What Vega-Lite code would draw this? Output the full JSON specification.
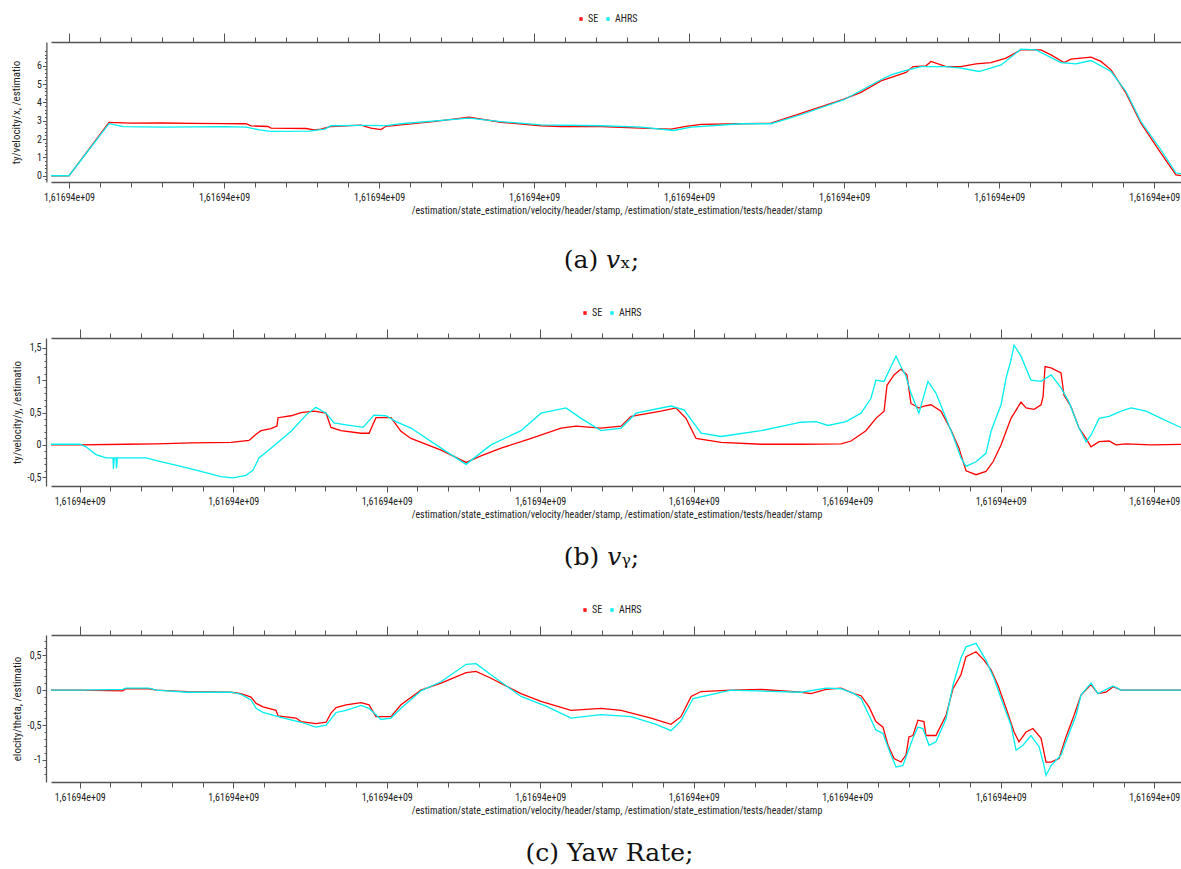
{
  "$schema": "https://vega.github.io/schema/vega-lite/v6.json",
  "background": "white",
  "padding": {"left": 10, "top": 14, "right": 0, "bottom": 0},
  "config": {
    "view": {"stroke": null},
    "axis": {
      "grid": false,
      "domainColor": "#555555",
      "tickColor": "#555555",
      "domainWidth": 1.3,
      "tickWidth": 1,
      "labelColor": "#222222",
      "titleColor": "#222222",
      "labelFont": "Liberation Sans Narrow, Roboto Condensed, DejaVu Sans Condensed, Liberation Sans",
      "titleFont": "Liberation Sans Narrow, Roboto Condensed, DejaVu Sans Condensed, Liberation Sans",
      "labelFontSize": 10,
      "titleFontSize": 10,
      "titleFontWeight": "normal",
      "labelOverlap": false,
      "labelFlush": false
    },
    "axisY": {"minExtent": 0},
    "legend": {
      "labelFont": "Liberation Sans Narrow, Roboto Condensed, DejaVu Sans Condensed, Liberation Sans",
      "labelFontSize": 10,
      "labelColor": "#222222",
      "symbolType": "square",
      "symbolSize": 4,
      "symbolStrokeWidth": 3,
      "columnPadding": 4,
      "labelOffset": 2
    },
    "title": {
      "font": "DejaVu Serif",
      "fontSize": 25,
      "fontWeight": "normal",
      "color": "#111111",
      "orient": "bottom",
      "anchor": "middle",
      "frame": "group"
    },
    "line": {"strokeWidth": 1.3, "clip": true}
  },
  "datasets": {
    "vx": [
      {"t": -1.86, "v": 0, "s": "SE"}, {"t": 0, "v": 0, "s": "SE"}, {"t": 2.58, "v": 2.91, "s": "SE"}, {"t": 4, "v": 2.87, "s": "SE"}, {"t": 6, "v": 2.88, "s": "SE"}, {"t": 8, "v": 2.86, "s": "SE"}, {"t": 10, "v": 2.85, "s": "SE"}, {"t": 11.42, "v": 2.84, "s": "SE"}, {"t": 11.74, "v": 2.72, "s": "SE"}, {"t": 12.84, "v": 2.69, "s": "SE"}, {"t": 13.03, "v": 2.6, "s": "SE"}, {"t": 15.29, "v": 2.58, "s": "SE"}, {"t": 15.8, "v": 2.51, "s": "SE"}, {"t": 16.25, "v": 2.55, "s": "SE"}, {"t": 16.9, "v": 2.69, "s": "SE"}, {"t": 18.83, "v": 2.76, "s": "SE"}, {"t": 19.48, "v": 2.6, "s": "SE"}, {"t": 20.12, "v": 2.52, "s": "SE"}, {"t": 20.45, "v": 2.7, "s": "SE"}, {"t": 21.41, "v": 2.78, "s": "SE"}, {"t": 23.5, "v": 2.95, "s": "SE"}, {"t": 25.8, "v": 3.2, "s": "SE"}, {"t": 27.86, "v": 2.92, "s": "SE"}, {"t": 30.44, "v": 2.73, "s": "SE"}, {"t": 31.73, "v": 2.69, "s": "SE"}, {"t": 34.31, "v": 2.69, "s": "SE"}, {"t": 36.89, "v": 2.6, "s": "SE"}, {"t": 38.83, "v": 2.55, "s": "SE"}, {"t": 39.8, "v": 2.69, "s": "SE"}, {"t": 40.77, "v": 2.8, "s": "SE"}, {"t": 43.35, "v": 2.84, "s": "SE"}, {"t": 45.28, "v": 2.87, "s": "SE"}, {"t": 47.21, "v": 3.4, "s": "SE"}, {"t": 49.99, "v": 4.18, "s": "SE"}, {"t": 51.08, "v": 4.55, "s": "SE"}, {"t": 52.37, "v": 5.18, "s": "SE"}, {"t": 53.99, "v": 5.64, "s": "SE"}, {"t": 54.44, "v": 5.96, "s": "SE"}, {"t": 55.28, "v": 6.0, "s": "SE"}, {"t": 55.6, "v": 6.24, "s": "SE"}, {"t": 56.57, "v": 5.96, "s": "SE"}, {"t": 57.53, "v": 5.96, "s": "SE"}, {"t": 58.5, "v": 6.11, "s": "SE"}, {"t": 59.47, "v": 6.18, "s": "SE"}, {"t": 60.44, "v": 6.42, "s": "SE"}, {"t": 61.4, "v": 6.87, "s": "SE"}, {"t": 62.69, "v": 6.87, "s": "SE"}, {"t": 63.34, "v": 6.6, "s": "SE"}, {"t": 64.18, "v": 6.18, "s": "SE"}, {"t": 64.63, "v": 6.36, "s": "SE"}, {"t": 65.92, "v": 6.47, "s": "SE"}, {"t": 66.56, "v": 6.24, "s": "SE"}, {"t": 67.21, "v": 5.78, "s": "SE"}, {"t": 68.18, "v": 4.51, "s": "SE"}, {"t": 69.14, "v": 2.87, "s": "SE"}, {"t": 70.43, "v": 1.24, "s": "SE"}, {"t": 71.4, "v": 0.05, "s": "SE"}, {"t": 71.8, "v": 0, "s": "SE"},
      {"t": -1.86, "v": 0, "s": "AHRS"}, {"t": 0, "v": 0, "s": "AHRS"}, {"t": 2.58, "v": 2.84, "s": "AHRS"}, {"t": 3.5, "v": 2.68, "s": "AHRS"}, {"t": 6, "v": 2.66, "s": "AHRS"}, {"t": 8, "v": 2.67, "s": "AHRS"}, {"t": 10, "v": 2.68, "s": "AHRS"}, {"t": 11.42, "v": 2.66, "s": "AHRS"}, {"t": 12.3, "v": 2.5, "s": "AHRS"}, {"t": 13, "v": 2.42, "s": "AHRS"}, {"t": 15.5, "v": 2.44, "s": "AHRS"}, {"t": 16.5, "v": 2.55, "s": "AHRS"}, {"t": 16.9, "v": 2.73, "s": "AHRS"}, {"t": 18.8, "v": 2.75, "s": "AHRS"}, {"t": 20.5, "v": 2.74, "s": "AHRS"}, {"t": 21.41, "v": 2.84, "s": "AHRS"}, {"t": 25.8, "v": 3.15, "s": "AHRS"}, {"t": 27.86, "v": 2.96, "s": "AHRS"}, {"t": 30.44, "v": 2.78, "s": "AHRS"}, {"t": 34.31, "v": 2.73, "s": "AHRS"}, {"t": 36.89, "v": 2.66, "s": "AHRS"}, {"t": 39, "v": 2.47, "s": "AHRS"}, {"t": 40.13, "v": 2.66, "s": "AHRS"}, {"t": 43.35, "v": 2.84, "s": "AHRS"}, {"t": 45.28, "v": 2.84, "s": "AHRS"}, {"t": 47.21, "v": 3.33, "s": "AHRS"}, {"t": 49.99, "v": 4.15, "s": "AHRS"}, {"t": 52.37, "v": 5.24, "s": "AHRS"}, {"t": 53.02, "v": 5.51, "s": "AHRS"}, {"t": 53.99, "v": 5.75, "s": "AHRS"}, {"t": 54.96, "v": 5.96, "s": "AHRS"}, {"t": 56.57, "v": 5.96, "s": "AHRS"}, {"t": 57.53, "v": 5.87, "s": "AHRS"}, {"t": 58.7, "v": 5.69, "s": "AHRS"}, {"t": 60.12, "v": 6.05, "s": "AHRS"}, {"t": 61.4, "v": 6.91, "s": "AHRS"}, {"t": 62.37, "v": 6.87, "s": "AHRS"}, {"t": 63.98, "v": 6.18, "s": "AHRS"}, {"t": 64.95, "v": 6.11, "s": "AHRS"}, {"t": 65.92, "v": 6.29, "s": "AHRS"}, {"t": 67.21, "v": 5.69, "s": "AHRS"}, {"t": 68.18, "v": 4.6, "s": "AHRS"}, {"t": 69.14, "v": 2.96, "s": "AHRS"}, {"t": 70.43, "v": 1.42, "s": "AHRS"}, {"t": 71.4, "v": 0.15, "s": "AHRS"}, {"t": 71.8, "v": 0.1, "s": "AHRS"}
    ],
    "vy": [
      {"t": -1.87, "v": 0, "s": "SE"}, {"t": 0, "v": 0, "s": "SE"}, {"t": 3, "v": 0.01, "s": "SE"}, {"t": 5, "v": 0.015, "s": "SE"}, {"t": 7.25, "v": 0.03, "s": "SE"}, {"t": 9.86, "v": 0.04, "s": "SE"}, {"t": 11.03, "v": 0.07, "s": "SE"}, {"t": 11.49, "v": 0.165, "s": "SE"}, {"t": 11.81, "v": 0.22, "s": "SE"}, {"t": 12.46, "v": 0.25, "s": "SE"}, {"t": 12.85, "v": 0.29, "s": "SE"}, {"t": 12.92, "v": 0.42, "s": "SE"}, {"t": 13.77, "v": 0.45, "s": "SE"}, {"t": 14.42, "v": 0.5, "s": "SE"}, {"t": 15.26, "v": 0.52, "s": "SE"}, {"t": 16.05, "v": 0.49, "s": "SE"}, {"t": 16.37, "v": 0.27, "s": "SE"}, {"t": 17.02, "v": 0.22, "s": "SE"}, {"t": 18.33, "v": 0.18, "s": "SE"}, {"t": 18.85, "v": 0.18, "s": "SE"}, {"t": 19.3, "v": 0.42, "s": "SE"}, {"t": 20.28, "v": 0.42, "s": "SE"}, {"t": 20.93, "v": 0.21, "s": "SE"}, {"t": 21.58, "v": 0.1, "s": "SE"}, {"t": 23.54, "v": -0.08, "s": "SE"}, {"t": 25.17, "v": -0.27, "s": "SE"}, {"t": 26.14, "v": -0.17, "s": "SE"}, {"t": 27.45, "v": -0.05, "s": "SE"}, {"t": 29.41, "v": 0.1, "s": "SE"}, {"t": 31.36, "v": 0.26, "s": "SE"}, {"t": 32.33, "v": 0.29, "s": "SE"}, {"t": 33.96, "v": 0.26, "s": "SE"}, {"t": 35.27, "v": 0.29, "s": "SE"}, {"t": 35.92, "v": 0.44, "s": "SE"}, {"t": 37.87, "v": 0.52, "s": "SE"}, {"t": 38.85, "v": 0.57, "s": "SE"}, {"t": 39.5, "v": 0.41, "s": "SE"}, {"t": 40.15, "v": 0.1, "s": "SE"}, {"t": 41.78, "v": 0.04, "s": "SE"}, {"t": 44.39, "v": 0.01, "s": "SE"}, {"t": 47.0, "v": 0.01, "s": "SE"}, {"t": 49.6, "v": 0.015, "s": "SE"}, {"t": 50.25, "v": 0.06, "s": "SE"}, {"t": 51.22, "v": 0.22, "s": "SE"}, {"t": 51.87, "v": 0.41, "s": "SE"}, {"t": 52.4, "v": 0.52, "s": "SE"}, {"t": 52.59, "v": 0.92, "s": "SE"}, {"t": 53.05, "v": 1.08, "s": "SE"}, {"t": 53.5, "v": 1.17, "s": "SE"}, {"t": 53.89, "v": 1.08, "s": "SE"}, {"t": 54.15, "v": 0.64, "s": "SE"}, {"t": 54.67, "v": 0.57, "s": "SE"}, {"t": 55.0, "v": 0.6, "s": "SE"}, {"t": 55.46, "v": 0.62, "s": "SE"}, {"t": 56.11, "v": 0.52, "s": "SE"}, {"t": 56.76, "v": 0.23, "s": "SE"}, {"t": 57.28, "v": -0.05, "s": "SE"}, {"t": 57.74, "v": -0.4, "s": "SE"}, {"t": 58.39, "v": -0.46, "s": "SE"}, {"t": 59.04, "v": -0.41, "s": "SE"}, {"t": 59.5, "v": -0.26, "s": "SE"}, {"t": 60.02, "v": 0, "s": "SE"}, {"t": 60.67, "v": 0.41, "s": "SE"}, {"t": 61.32, "v": 0.66, "s": "SE"}, {"t": 61.65, "v": 0.57, "s": "SE"}, {"t": 62.17, "v": 0.55, "s": "SE"}, {"t": 62.63, "v": 0.62, "s": "SE"}, {"t": 62.76, "v": 0.75, "s": "SE"}, {"t": 62.89, "v": 1.21, "s": "SE"}, {"t": 63.28, "v": 1.19, "s": "SE"}, {"t": 63.93, "v": 1.11, "s": "SE"}, {"t": 64.12, "v": 0.77, "s": "SE"}, {"t": 64.58, "v": 0.59, "s": "SE"}, {"t": 65.1, "v": 0.26, "s": "SE"}, {"t": 65.56, "v": 0.1, "s": "SE"}, {"t": 65.88, "v": -0.03, "s": "SE"}, {"t": 66.41, "v": 0.05, "s": "SE"}, {"t": 67.06, "v": 0.06, "s": "SE"}, {"t": 67.51, "v": 0, "s": "SE"}, {"t": 68.17, "v": 0.015, "s": "SE"}, {"t": 69.8, "v": 0, "s": "SE"}, {"t": 71.81, "v": 0.01, "s": "SE"},
      {"t": -1.87, "v": 0.01, "s": "AHRS"}, {"t": 0, "v": 0.01, "s": "AHRS"}, {"t": 0.41, "v": -0.03, "s": "AHRS"}, {"t": 1.06, "v": -0.15, "s": "AHRS"}, {"t": 1.71, "v": -0.2, "s": "AHRS"}, {"t": 2.17, "v": -0.2, "s": "AHRS"}, {"t": 2.2, "v": -0.37, "s": "AHRS"}, {"t": 2.25, "v": -0.2, "s": "AHRS"}, {"t": 2.36, "v": -0.2, "s": "AHRS"}, {"t": 2.4, "v": -0.36, "s": "AHRS"}, {"t": 2.45, "v": -0.2, "s": "AHRS"}, {"t": 3.34, "v": -0.2, "s": "AHRS"}, {"t": 4.32, "v": -0.2, "s": "AHRS"}, {"t": 5.34, "v": -0.26, "s": "AHRS"}, {"t": 6.6, "v": -0.33, "s": "AHRS"}, {"t": 7.9, "v": -0.41, "s": "AHRS"}, {"t": 9.2, "v": -0.49, "s": "AHRS"}, {"t": 9.99, "v": -0.51, "s": "AHRS"}, {"t": 10.83, "v": -0.47, "s": "AHRS"}, {"t": 11.29, "v": -0.39, "s": "AHRS"}, {"t": 11.68, "v": -0.2, "s": "AHRS"}, {"t": 12.46, "v": -0.05, "s": "AHRS"}, {"t": 13.77, "v": 0.21, "s": "AHRS"}, {"t": 14.74, "v": 0.46, "s": "AHRS"}, {"t": 15.39, "v": 0.58, "s": "AHRS"}, {"t": 16.05, "v": 0.49, "s": "AHRS"}, {"t": 16.57, "v": 0.34, "s": "AHRS"}, {"t": 17.35, "v": 0.31, "s": "AHRS"}, {"t": 18.46, "v": 0.27, "s": "AHRS"}, {"t": 19.17, "v": 0.46, "s": "AHRS"}, {"t": 19.95, "v": 0.45, "s": "AHRS"}, {"t": 20.61, "v": 0.36, "s": "AHRS"}, {"t": 21.58, "v": 0.26, "s": "AHRS"}, {"t": 23.54, "v": -0.05, "s": "AHRS"}, {"t": 25.17, "v": -0.3, "s": "AHRS"}, {"t": 26.79, "v": 0, "s": "AHRS"}, {"t": 28.75, "v": 0.22, "s": "AHRS"}, {"t": 30.05, "v": 0.49, "s": "AHRS"}, {"t": 31.68, "v": 0.57, "s": "AHRS"}, {"t": 32.66, "v": 0.41, "s": "AHRS"}, {"t": 33.96, "v": 0.22, "s": "AHRS"}, {"t": 35.27, "v": 0.26, "s": "AHRS"}, {"t": 36.24, "v": 0.49, "s": "AHRS"}, {"t": 38.52, "v": 0.6, "s": "AHRS"}, {"t": 39.37, "v": 0.54, "s": "AHRS"}, {"t": 40.48, "v": 0.18, "s": "AHRS"}, {"t": 41.78, "v": 0.13, "s": "AHRS"}, {"t": 44.39, "v": 0.22, "s": "AHRS"}, {"t": 47.0, "v": 0.35, "s": "AHRS"}, {"t": 47.97, "v": 0.36, "s": "AHRS"}, {"t": 48.75, "v": 0.3, "s": "AHRS"}, {"t": 49.92, "v": 0.36, "s": "AHRS"}, {"t": 50.9, "v": 0.49, "s": "AHRS"}, {"t": 51.55, "v": 0.72, "s": "AHRS"}, {"t": 51.87, "v": 1.0, "s": "AHRS"}, {"t": 52.4, "v": 0.98, "s": "AHRS"}, {"t": 52.85, "v": 1.21, "s": "AHRS"}, {"t": 53.18, "v": 1.37, "s": "AHRS"}, {"t": 53.5, "v": 1.21, "s": "AHRS"}, {"t": 53.83, "v": 1.06, "s": "AHRS"}, {"t": 54.15, "v": 0.8, "s": "AHRS"}, {"t": 54.67, "v": 0.49, "s": "AHRS"}, {"t": 55.26, "v": 0.98, "s": "AHRS"}, {"t": 55.78, "v": 0.8, "s": "AHRS"}, {"t": 56.44, "v": 0.41, "s": "AHRS"}, {"t": 56.96, "v": 0.1, "s": "AHRS"}, {"t": 57.41, "v": -0.2, "s": "AHRS"}, {"t": 57.74, "v": -0.33, "s": "AHRS"}, {"t": 58.39, "v": -0.26, "s": "AHRS"}, {"t": 59.04, "v": -0.13, "s": "AHRS"}, {"t": 59.37, "v": 0.21, "s": "AHRS"}, {"t": 60.02, "v": 0.62, "s": "AHRS"}, {"t": 60.35, "v": 1.03, "s": "AHRS"}, {"t": 60.67, "v": 1.31, "s": "AHRS"}, {"t": 60.87, "v": 1.54, "s": "AHRS"}, {"t": 61.32, "v": 1.37, "s": "AHRS"}, {"t": 61.97, "v": 1.0, "s": "AHRS"}, {"t": 62.63, "v": 0.98, "s": "AHRS"}, {"t": 63.28, "v": 1.08, "s": "AHRS"}, {"t": 63.93, "v": 0.88, "s": "AHRS"}, {"t": 64.45, "v": 0.66, "s": "AHRS"}, {"t": 65.1, "v": 0.26, "s": "AHRS"}, {"t": 65.56, "v": 0.05, "s": "AHRS"}, {"t": 65.88, "v": 0.15, "s": "AHRS"}, {"t": 66.41, "v": 0.41, "s": "AHRS"}, {"t": 67.06, "v": 0.44, "s": "AHRS"}, {"t": 67.84, "v": 0.52, "s": "AHRS"}, {"t": 68.49, "v": 0.57, "s": "AHRS"}, {"t": 69.47, "v": 0.52, "s": "AHRS"}, {"t": 70.45, "v": 0.41, "s": "AHRS"}, {"t": 71.81, "v": 0.26, "s": "AHRS"}
    ],
    "yaw": [
      {"t": -1.87, "v": 0, "s": "SE"}, {"t": 0, "v": 0, "s": "SE"}, {"t": 2.8, "v": -0.01, "s": "SE"}, {"t": 3.0, "v": 0.02, "s": "SE"}, {"t": 4.5, "v": 0.02, "s": "SE"}, {"t": 5.0, "v": 0, "s": "SE"}, {"t": 7.0, "v": -0.02, "s": "SE"}, {"t": 9.86, "v": -0.03, "s": "SE"}, {"t": 10.51, "v": -0.05, "s": "SE"}, {"t": 11.16, "v": -0.1, "s": "SE"}, {"t": 11.49, "v": -0.19, "s": "SE"}, {"t": 11.94, "v": -0.24, "s": "SE"}, {"t": 12.79, "v": -0.29, "s": "SE"}, {"t": 12.92, "v": -0.37, "s": "SE"}, {"t": 14.09, "v": -0.4, "s": "SE"}, {"t": 14.42, "v": -0.45, "s": "SE"}, {"t": 15.39, "v": -0.48, "s": "SE"}, {"t": 16.05, "v": -0.46, "s": "SE"}, {"t": 16.37, "v": -0.33, "s": "SE"}, {"t": 16.7, "v": -0.25, "s": "SE"}, {"t": 17.35, "v": -0.21, "s": "SE"}, {"t": 18.33, "v": -0.18, "s": "SE"}, {"t": 18.85, "v": -0.21, "s": "SE"}, {"t": 19.3, "v": -0.38, "s": "SE"}, {"t": 20.28, "v": -0.38, "s": "SE"}, {"t": 20.93, "v": -0.21, "s": "SE"}, {"t": 22.23, "v": 0, "s": "SE"}, {"t": 23.54, "v": 0.1, "s": "SE"}, {"t": 25.17, "v": 0.25, "s": "SE"}, {"t": 25.82, "v": 0.27, "s": "SE"}, {"t": 26.79, "v": 0.17, "s": "SE"}, {"t": 28.75, "v": -0.05, "s": "SE"}, {"t": 30.05, "v": -0.16, "s": "SE"}, {"t": 32.01, "v": -0.29, "s": "SE"}, {"t": 33.96, "v": -0.26, "s": "SE"}, {"t": 35.27, "v": -0.29, "s": "SE"}, {"t": 37.22, "v": -0.4, "s": "SE"}, {"t": 38.52, "v": -0.49, "s": "SE"}, {"t": 39.17, "v": -0.38, "s": "SE"}, {"t": 39.83, "v": -0.09, "s": "SE"}, {"t": 40.48, "v": -0.02, "s": "SE"}, {"t": 42.43, "v": 0, "s": "SE"}, {"t": 44.39, "v": 0.01, "s": "SE"}, {"t": 47.0, "v": -0.03, "s": "SE"}, {"t": 47.64, "v": -0.05, "s": "SE"}, {"t": 48.62, "v": 0.01, "s": "SE"}, {"t": 49.6, "v": 0.03, "s": "SE"}, {"t": 50.44, "v": -0.05, "s": "SE"}, {"t": 50.9, "v": -0.08, "s": "SE"}, {"t": 51.42, "v": -0.24, "s": "SE"}, {"t": 51.87, "v": -0.45, "s": "SE"}, {"t": 52.33, "v": -0.53, "s": "SE"}, {"t": 52.66, "v": -0.79, "s": "SE"}, {"t": 53.05, "v": -0.98, "s": "SE"}, {"t": 53.5, "v": -1.03, "s": "SE"}, {"t": 53.83, "v": -0.93, "s": "SE"}, {"t": 54.02, "v": -0.67, "s": "SE"}, {"t": 54.28, "v": -0.65, "s": "SE"}, {"t": 54.61, "v": -0.43, "s": "SE"}, {"t": 55.0, "v": -0.45, "s": "SE"}, {"t": 55.13, "v": -0.65, "s": "SE"}, {"t": 55.78, "v": -0.65, "s": "SE"}, {"t": 56.44, "v": -0.36, "s": "SE"}, {"t": 56.89, "v": 0.02, "s": "SE"}, {"t": 57.41, "v": 0.22, "s": "SE"}, {"t": 57.74, "v": 0.48, "s": "SE"}, {"t": 58.39, "v": 0.55, "s": "SE"}, {"t": 58.91, "v": 0.43, "s": "SE"}, {"t": 59.37, "v": 0.29, "s": "SE"}, {"t": 59.82, "v": 0.07, "s": "SE"}, {"t": 60.35, "v": -0.26, "s": "SE"}, {"t": 60.87, "v": -0.6, "s": "SE"}, {"t": 61.19, "v": -0.74, "s": "SE"}, {"t": 61.65, "v": -0.6, "s": "SE"}, {"t": 62.1, "v": -0.55, "s": "SE"}, {"t": 62.63, "v": -0.69, "s": "SE"}, {"t": 62.95, "v": -1.03, "s": "SE"}, {"t": 63.28, "v": -1.03, "s": "SE"}, {"t": 63.8, "v": -0.98, "s": "SE"}, {"t": 64.25, "v": -0.67, "s": "SE"}, {"t": 64.78, "v": -0.36, "s": "SE"}, {"t": 65.23, "v": -0.07, "s": "SE"}, {"t": 65.88, "v": 0.08, "s": "SE"}, {"t": 66.34, "v": -0.05, "s": "SE"}, {"t": 66.86, "v": -0.03, "s": "SE"}, {"t": 67.32, "v": 0.05, "s": "SE"}, {"t": 67.84, "v": 0, "s": "SE"}, {"t": 71.81, "v": 0, "s": "SE"},
      {"t": -1.87, "v": 0, "s": "AHRS"}, {"t": 0, "v": 0, "s": "AHRS"}, {"t": 2.8, "v": 0.01, "s": "AHRS"}, {"t": 3.0, "v": 0.03, "s": "AHRS"}, {"t": 4.5, "v": 0.03, "s": "AHRS"}, {"t": 5.0, "v": 0, "s": "AHRS"}, {"t": 7.0, "v": -0.03, "s": "AHRS"}, {"t": 9.86, "v": -0.03, "s": "AHRS"}, {"t": 10.51, "v": -0.06, "s": "AHRS"}, {"t": 11.16, "v": -0.14, "s": "AHRS"}, {"t": 11.49, "v": -0.26, "s": "AHRS"}, {"t": 11.94, "v": -0.32, "s": "AHRS"}, {"t": 13.11, "v": -0.39, "s": "AHRS"}, {"t": 14.42, "v": -0.46, "s": "AHRS"}, {"t": 15.39, "v": -0.53, "s": "AHRS"}, {"t": 16.05, "v": -0.5, "s": "AHRS"}, {"t": 16.7, "v": -0.32, "s": "AHRS"}, {"t": 17.35, "v": -0.29, "s": "AHRS"}, {"t": 18.33, "v": -0.22, "s": "AHRS"}, {"t": 18.85, "v": -0.26, "s": "AHRS"}, {"t": 19.63, "v": -0.42, "s": "AHRS"}, {"t": 20.28, "v": -0.4, "s": "AHRS"}, {"t": 20.93, "v": -0.26, "s": "AHRS"}, {"t": 22.23, "v": -0.01, "s": "AHRS"}, {"t": 23.54, "v": 0.12, "s": "AHRS"}, {"t": 25.17, "v": 0.37, "s": "AHRS"}, {"t": 25.82, "v": 0.38, "s": "AHRS"}, {"t": 26.79, "v": 0.22, "s": "AHRS"}, {"t": 28.75, "v": -0.09, "s": "AHRS"}, {"t": 30.38, "v": -0.23, "s": "AHRS"}, {"t": 32.01, "v": -0.4, "s": "AHRS"}, {"t": 33.96, "v": -0.35, "s": "AHRS"}, {"t": 35.92, "v": -0.38, "s": "AHRS"}, {"t": 37.55, "v": -0.49, "s": "AHRS"}, {"t": 38.52, "v": -0.58, "s": "AHRS"}, {"t": 39.17, "v": -0.44, "s": "AHRS"}, {"t": 39.96, "v": -0.12, "s": "AHRS"}, {"t": 42.43, "v": 0, "s": "AHRS"}, {"t": 47.0, "v": -0.03, "s": "AHRS"}, {"t": 48.62, "v": 0.03, "s": "AHRS"}, {"t": 49.6, "v": 0.02, "s": "AHRS"}, {"t": 50.44, "v": -0.05, "s": "AHRS"}, {"t": 50.9, "v": -0.12, "s": "AHRS"}, {"t": 51.42, "v": -0.36, "s": "AHRS"}, {"t": 51.87, "v": -0.57, "s": "AHRS"}, {"t": 52.33, "v": -0.62, "s": "AHRS"}, {"t": 52.85, "v": -0.93, "s": "AHRS"}, {"t": 53.18, "v": -1.1, "s": "AHRS"}, {"t": 53.63, "v": -1.08, "s": "AHRS"}, {"t": 53.96, "v": -0.88, "s": "AHRS"}, {"t": 54.28, "v": -0.69, "s": "AHRS"}, {"t": 54.61, "v": -0.53, "s": "AHRS"}, {"t": 54.93, "v": -0.55, "s": "AHRS"}, {"t": 55.33, "v": -0.79, "s": "AHRS"}, {"t": 55.78, "v": -0.74, "s": "AHRS"}, {"t": 56.44, "v": -0.41, "s": "AHRS"}, {"t": 56.89, "v": 0.07, "s": "AHRS"}, {"t": 57.41, "v": 0.46, "s": "AHRS"}, {"t": 57.74, "v": 0.62, "s": "AHRS"}, {"t": 58.39, "v": 0.67, "s": "AHRS"}, {"t": 59.04, "v": 0.43, "s": "AHRS"}, {"t": 59.56, "v": 0.17, "s": "AHRS"}, {"t": 60.02, "v": -0.12, "s": "AHRS"}, {"t": 60.67, "v": -0.5, "s": "AHRS"}, {"t": 61.0, "v": -0.86, "s": "AHRS"}, {"t": 61.45, "v": -0.79, "s": "AHRS"}, {"t": 61.97, "v": -0.65, "s": "AHRS"}, {"t": 62.5, "v": -0.81, "s": "AHRS"}, {"t": 62.82, "v": -1.08, "s": "AHRS"}, {"t": 62.95, "v": -1.22, "s": "AHRS"}, {"t": 63.28, "v": -1.08, "s": "AHRS"}, {"t": 63.93, "v": -0.93, "s": "AHRS"}, {"t": 64.45, "v": -0.62, "s": "AHRS"}, {"t": 64.91, "v": -0.36, "s": "AHRS"}, {"t": 65.23, "v": -0.07, "s": "AHRS"}, {"t": 65.88, "v": 0.1, "s": "AHRS"}, {"t": 66.34, "v": -0.05, "s": "AHRS"}, {"t": 67.32, "v": 0.06, "s": "AHRS"}, {"t": 67.84, "v": 0, "s": "AHRS"}, {"t": 71.81, "v": 0, "s": "AHRS"}
    ]
  },
  "spacing": 35,
  "resolve": {"scale": {"color": "independent"}, "legend": {"color": "independent"}},
  "vconcat": [
    {
      "width": 1131,
      "height": 140,
      "title": {"text": "(a) 𝑣ₓ;", "dx": -15, "offset": 33},
      "data": {"name": "vx"},
      "encoding": {
        "y": {"field": "v", "type": "quantitative", "scale": {"domain": [-0.34, 7.3], "nice": false, "zero": false},
          "axis": {"orient": "left", "offset": 4.6, "minExtent": 0, "values": [-0.2,0,0.2,0.4,0.6,0.8,1,1.2,1.4,1.6,1.8,2,2.2,2.4,2.6,2.8,3,3.2,3.4,3.6,3.8,4,4.2,4.4,4.6,4.8,5,5.2,5.4,5.6,5.8,6,6.2,6.4,6.6,6.8],
            "labelExpr": "abs(datum.value - round(datum.value)) < 1e-6 ? toString(round(datum.value)) : ''",
            "tickSize": {"condition": {"test": "abs(datum.value - round(datum.value)) < 1e-6", "value": 4}, "value": 2},
            "labelPadding": 1, "title": "ty/velocity/x, /estimatio", "titleFontSize": 11, "titlePadding": 15}},
        "color": {"field": "s", "type": "nominal", "scale": {"domain": ["SE", "AHRS"], "range": ["#ff0000", "#00eeee"]},
          "legend": {"orient": "none", "legendX": 525, "legendY": -28, "direction": "horizontal", "title": null}}
      },
      "layer": [
        {
          "transform": [{"filter": "datum.s === 'SE'"}],
          "mark": {"type": "line", "clip": true},
          "encoding": {
            "x": {"field": "t", "type": "quantitative", "scale": {"domain": [-1.16, 71.79], "nice": false, "zero": false},
              "axis": {"orient": "bottom", "values": [0,2,4,6,8,10,12,14,16,18,20,22,24,26,28,30,32,34,36,38,40,42,44,46,48,50,52,54,56,58,60,62,64,66,68,70],
                "labelExpr": "datum.value % 10 === 0 ? '1,61694e+09' : ''",
                "tickSize": {"condition": {"test": "datum.value % 10 === 0", "value": 6}, "value": 5},
                "labelPadding": 4,
                "title": "/estimation/state_estimation/velocity/header/stamp, /estimation/state_estimation/tests/header/stamp",
                "titlePadding": 3}}
          }
        },
        {
          "transform": [{"filter": "datum.s === 'AHRS'"}],
          "mark": {"type": "line", "clip": true},
          "encoding": {
            "x": {"field": "t", "type": "quantitative", "scale": {"domain": [-1.16, 71.79], "nice": false, "zero": false},
              "axis": {"orient": "top", "values": [0,2,4,6,8,10,12,14,16,18,20,22,24,26,28,30,32,34,36,38,40,42,44,46,48,50,52,54,56,58,60,62,64,66,68,70],
                "labels": false, "title": null,
                "tickSize": {"condition": {"test": "datum.value % 10 === 0", "value": 9}, "value": 5}}}
          }
        }
      ],
      "resolve": {"axis": {"x": "independent"}}
    },
    {
      "width": 1131,
      "height": 148,
      "title": {"text": "(b) 𝑣ᵧ;", "dx": -15, "offset": 26},
      "data": {"name": "vy"},
      "encoding": {
        "y": {"field": "v", "type": "quantitative", "scale": {"domain": [-0.634, 1.65], "nice": false, "zero": false},
          "axis": {"orient": "left", "offset": 5, "minExtent": 0, "values": [-0.5,-0.4,-0.3,-0.2,-0.1,0,0.1,0.2,0.3,0.4,0.5,0.6,0.7,0.8,0.9,1,1.1,1.2,1.3,1.4,1.5],
            "labelExpr": "abs(datum.value*2 - round(datum.value*2)) < 1e-6 ? replace(toString(round(datum.value*10)/10), '.', ',') : ''",
            "tickSize": {"condition": {"test": "abs(datum.value*2 - round(datum.value*2)) < 1e-6", "value": 4}, "value": 2},
            "labelPadding": 1, "title": "ty/velocity/y, /estimatio", "titleFontSize": 11, "titlePadding": 4}},
        "color": {"field": "s", "type": "nominal", "scale": {"domain": ["SE", "AHRS"], "range": ["#ff0000", "#00eeee"]},
          "legend": {"orient": "none", "legendX": 529, "legendY": -30, "direction": "horizontal", "title": null}}
      },
      "layer": [
        {
          "transform": [{"filter": "datum.s === 'SE'"}],
          "mark": {"type": "line", "clip": true},
          "encoding": {
            "x": {"field": "t", "type": "quantitative", "scale": {"domain": [-1.87, 71.81], "nice": false, "zero": false},
              "axis": {"orient": "bottom", "values": [0,2,4,6,8,10,12,14,16,18,20,22,24,26,28,30,32,34,36,38,40,42,44,46,48,50,52,54,56,58,60,62,64,66,68,70],
                "labelExpr": "datum.value % 10 === 0 ? '1,61694e+09' : ''",
                "tickSize": {"condition": {"test": "datum.value % 10 === 0", "value": 6}, "value": 5},
                "labelPadding": 4,
                "title": "/estimation/state_estimation/velocity/header/stamp, /estimation/state_estimation/tests/header/stamp",
                "titlePadding": 3}}
          }
        },
        {
          "transform": [{"filter": "datum.s === 'AHRS'"}],
          "mark": {"type": "line", "clip": true},
          "encoding": {
            "x": {"field": "t", "type": "quantitative", "scale": {"domain": [-1.87, 71.81], "nice": false, "zero": false},
              "axis": {"orient": "top", "values": [0,2,4,6,8,10,12,14,16,18,20,22,24,26,28,30,32,34,36,38,40,42,44,46,48,50,52,54,56,58,60,62,64,66,68,70],
                "labels": false, "title": null,
                "tickSize": {"condition": {"test": "datum.value % 10 === 0", "value": 9}, "value": 5}}}
          }
        }
      ],
      "resolve": {"axis": {"x": "independent"}}
    },
    {
      "width": 1131,
      "height": 147,
      "title": {"text": "(c) Yaw Rate;", "dx": -7, "offset": 26},
      "data": {"name": "yaw"},
      "encoding": {
        "y": {"field": "v", "type": "quantitative", "scale": {"domain": [-1.316, 0.79], "nice": false, "zero": false},
          "axis": {"orient": "left", "offset": 5, "minExtent": 0, "values": [-1.2,-1.1,-1,-0.9,-0.8,-0.7,-0.6,-0.5,-0.4,-0.3,-0.2,-0.1,0,0.1,0.2,0.3,0.4,0.5,0.6,0.7],
            "labelExpr": "abs(datum.value*2 - round(datum.value*2)) < 1e-6 ? replace(toString(round(datum.value*10)/10), '.', ',') : ''",
            "tickSize": {"condition": {"test": "abs(datum.value*2 - round(datum.value*2)) < 1e-6", "value": 4}, "value": 2},
            "labelPadding": 1, "title": "elocity/theta, /estimatio", "titleFontSize": 11, "titlePadding": 4}},
        "color": {"field": "s", "type": "nominal", "scale": {"domain": ["SE", "AHRS"], "range": ["#ff0000", "#00eeee"]},
          "legend": {"orient": "none", "legendX": 529, "legendY": -30, "direction": "horizontal", "title": null}}
      },
      "layer": [
        {
          "transform": [{"filter": "datum.s === 'SE'"}],
          "mark": {"type": "line", "clip": true},
          "encoding": {
            "x": {"field": "t", "type": "quantitative", "scale": {"domain": [-1.87, 71.81], "nice": false, "zero": false},
              "axis": {"orient": "bottom", "values": [0,2,4,6,8,10,12,14,16,18,20,22,24,26,28,30,32,34,36,38,40,42,44,46,48,50,52,54,56,58,60,62,64,66,68,70],
                "labelExpr": "datum.value % 10 === 0 ? '1,61694e+09' : ''",
                "tickSize": {"condition": {"test": "datum.value % 10 === 0", "value": 6}, "value": 5},
                "labelPadding": 4,
                "title": "/estimation/state_estimation/velocity/header/stamp, /estimation/state_estimation/tests/header/stamp",
                "titlePadding": 3}}
          }
        },
        {
          "transform": [{"filter": "datum.s === 'AHRS'"}],
          "mark": {"type": "line", "clip": true},
          "encoding": {
            "x": {"field": "t", "type": "quantitative", "scale": {"domain": [-1.87, 71.81], "nice": false, "zero": false},
              "axis": {"orient": "top", "values": [0,2,4,6,8,10,12,14,16,18,20,22,24,26,28,30,32,34,36,38,40,42,44,46,48,50,52,54,56,58,60,62,64,66,68,70],
                "labels": false, "title": null,
                "tickSize": {"condition": {"test": "datum.value % 10 === 0", "value": 9}, "value": 5}}}
          }
        }
      ],
      "resolve": {"axis": {"x": "independent"}}
    }
  ]
}
